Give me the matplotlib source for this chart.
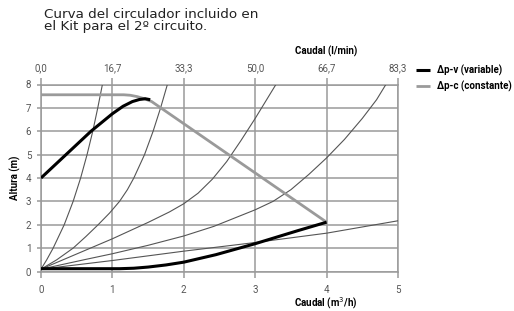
import matplotlib
matplotlib.use('Agg')
import matplotlib.pyplot as plt

# system curves (thin): (m3/h, m)
sys1_x = [0, 0.08, 0.17, 0.325, 0.45, 0.555, 0.645, 0.725, 0.795, 0.86]
sys1_y = [0.1, 0.5, 1, 2, 3, 4, 5, 6, 7, 8]
sys2_x = [0, 0.22, 0.45, 0.63, 0.8, 0.96, 1.1, 1.21, 1.3, 1.45, 1.57, 1.675, 1.77]
sys2_y = [0.1, 0.5, 1.0, 1.5, 2.0, 2.5, 3.0, 3.5, 4, 5, 6, 7, 8]
sys3_x = [0, 0.5, 1.0, 1.5, 1.8, 2.0, 2.2, 2.4, 2.6, 2.8, 3.0, 3.15, 3.29]
sys3_y = [0.1, 0.75, 1.4, 2.1, 2.55, 2.9, 3.35, 3.95, 4.7, 5.6, 6.55, 7.3, 8]
sys4_x = [0, 0.63, 1.0, 1.5, 2.0, 2.42, 3.0, 3.25, 3.5, 3.75, 4.0, 4.25, 4.5, 4.7, 4.83]
sys4_y = [0.1, 0.52, 0.76, 1.12, 1.52, 1.93, 2.64, 3.0, 3.5, 4.15, 4.86, 5.65, 6.55, 7.35, 8]
sys5_x = [0, 1, 2, 3, 4, 5]
sys5_y = [0.1, 0.47, 0.87, 1.24, 1.64, 2.17]

# pump curves
var_hi_x = [0, 0.35, 0.7, 1.0, 1.15, 1.28, 1.38, 1.46, 1.53]
var_hi_y = [4.0, 5.0, 6.0, 6.75, 7.07, 7.27, 7.36, 7.39, 7.35]
var_lo_x = [0, 1.1, 1.3, 1.5, 1.75, 2.0, 2.45, 3.0, 3.6, 4.0]
var_lo_y = [0.12, 0.12, 0.14, 0.19, 0.28, 0.4, 0.72, 1.19, 1.75, 2.11]
const_x = [0, 1.16, 1.25, 1.35, 1.45, 1.55, 4.0]
const_y = [7.56, 7.56, 7.54, 7.48, 7.39, 7.27, 2.11]

bottom_ticks = [0, 1, 2, 3, 4, 5]
top_labels = ["0,0", "16,7", "33,3", "50,0", "66,7", "83,3"]
y_ticks = [0, 1, 2, 3, 4, 5, 6, 7, 8]

grid_c = '#9a9a9a'
tick_c = '#555555'
narrow = ['Liberation Sans Narrow', 'Roboto', 'DejaVu Sans']

fig = plt.figure(figsize=(5.14, 3.11), dpi=100)
ax = fig.add_axes([41 / 514, 1 - 271.5 / 311, 357 / 514, 187 / 311])

for xs, ys in [(sys1_x, sys1_y), (sys2_x, sys2_y), (sys3_x, sys3_y),
               (sys4_x, sys4_y), (sys5_x, sys5_y)]:
    ax.plot(xs, ys, color='#555555', lw=0.8, zorder=3)

ax.plot(const_x, const_y, color='#9a9a9a', lw=2.0, zorder=4,
        label='Δp-c (constante)', solid_capstyle='butt')
ax.plot(var_hi_x, var_hi_y, color='black', lw=2.2, zorder=5,
        label='Δp-v (variable)', solid_capstyle='butt')
ax.plot(var_lo_x, var_lo_y, color='black', lw=2.2, zorder=5,
        solid_capstyle='butt')

ax.set_xlim(0, 5)
ax.set_ylim(0, 8)
ax.set_xticks(bottom_ticks)
ax.set_yticks(y_ticks)
ax.grid(True, color=grid_c, lw=1.1, zorder=1)
for s in ax.spines.values():
    s.set_color(grid_c)
    s.set_linewidth(1.1)
ax.tick_params(axis='x', direction='out', length=4, width=1.1, color=grid_c,
               labelsize=7, labelcolor=tick_c, pad=6)
ax.tick_params(axis='y', direction='out', length=3, width=1.1, color=grid_c,
               labelsize=7, labelcolor=tick_c, pad=4)

top = ax.twiny()
top.set_xlim(0, 5)
top.set_xticks(bottom_ticks)
top.set_xticklabels(top_labels)
top.tick_params(axis='x', direction='out', length=5, width=1.1, color=grid_c,
                labelsize=7, labelcolor=tick_c, pad=3)
for s in top.spines.values():
    s.set_visible(False)

for lab in ax.get_xticklabels() + ax.get_yticklabels() + top.get_xticklabels():
    lab.set_family(narrow)

ax.set_ylabel('Altura (m)', fontsize=7, fontweight='bold', labelpad=3,
              family=narrow)
fig.text(326 / 514, 1 - 303 / 311, 'Caudal (m$^3$/h)', fontsize=7,
         fontweight='bold', ha='center', va='center', family=narrow)
fig.text(326 / 514, 1 - 51 / 311, 'Caudal (l/min)', fontsize=7,
         fontweight='bold', ha='center', va='center', family=narrow)

fig.text(44 / 514, 1 - 8 / 311, 'Curva del circulador incluido en\nel Kit para el 2º circuito.',
         fontsize=9.7, color='#222222', ha='left', va='top', linespacing=0.92)

h, l = ax.get_legend_handles_labels()
leg = fig.legend([h[1], h[0]], [l[1], l[0]], loc='upper left',
                 bbox_to_anchor=(416 / 514, 1 - 65 / 311), frameon=False,
                 borderpad=0, borderaxespad=0, handlelength=1.45,
                 handletextpad=0.7, labelspacing=0.45,
                 prop={'size': 7, 'weight': 'bold', 'family': narrow})

fig.savefig('out.png', dpi=100)
